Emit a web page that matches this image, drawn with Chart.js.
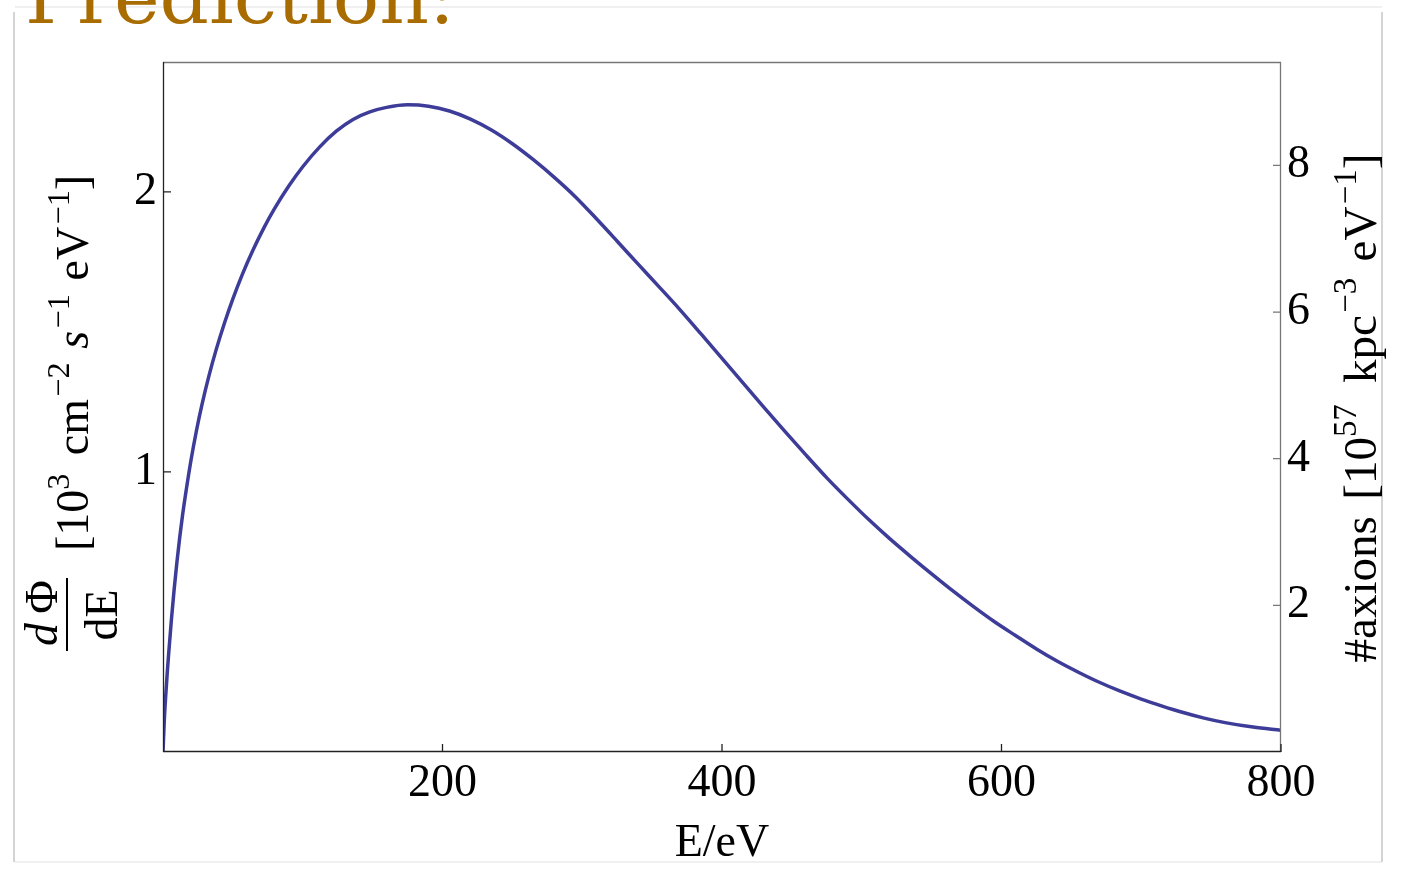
<!DOCTYPE html>
<html>
<head>
<meta charset="utf-8">
<script src="https://cdn.jsdelivr.net/npm/chart.js@4.4.1/dist/chart.umd.min.js"></script>
<style>
  body { margin: 0; background: #fff; }
  canvas { display: block; }
</style>
</head>
<body>
<canvas id="chart" width="1401" height="893"></canvas>
<script>
// E in eV, dPhi/dE in 10^3 cm^-2 s^-1 eV^-1
const energy = [0, 1, 2, 3, 4, 6, 8, 10, 12, 14, 17, 20, 24, 28, 33, 38, 44, 50, 57, 64, 72, 80, 90, 100, 112, 124,
    136, 148, 160, 175, 190, 205, 220, 235, 250, 265, 280, 295, 310, 325, 340, 355, 370, 385, 400, 415, 430, 445,
    460, 475, 490, 505, 520, 535, 550, 565, 580, 595, 610, 625, 640, 655, 670, 685, 700, 715, 730, 745, 760, 780, 800];
const flux = [0, 0.12, 0.205, 0.28, 0.348, 0.472, 0.582, 0.68, 0.768, 0.846, 0.948, 1.041, 1.149, 1.243, 1.346, 1.436, 1.532, 1.618, 1.708, 1.788, 1.870, 1.942, 2.021, 2.090, 2.160, 2.217,
    2.259, 2.286, 2.302, 2.311, 2.306, 2.289, 2.260, 2.221, 2.172, 2.115, 2.052, 1.983, 1.905, 1.824, 1.742, 1.661, 1.579, 1.493, 1.406, 1.318, 1.231, 1.145,
    1.061, 0.979, 0.903, 0.830, 0.762, 0.698, 0.636, 0.576, 0.519, 0.465, 0.416, 0.368, 0.324, 0.285, 0.249, 0.217, 0.189, 0.164, 0.141, 0.121, 0.105, 0.089, 0.078];

const xTicks = [200, 400, 600, 800];
const leftTicks = [1, 2];
const rightTicks = [2, 4, 6, 8];

const serif = "'Liberation Serif', 'Times New Roman', serif";
const lineColor = '#3d3d99';

// draws a row of text pieces, p[1]: '' normal, 'i' italic, 's' superscript, 'g' gap (em)
function drawRich(ctx, parts, size) {
    const pieces = parts.map(p => {
        const st = p[1] || '';
        if (st === 'g') return { t: '', font: '', w: p[0] * size, up: 0 };
        const sz = st.includes('s') ? size * 0.7 : size;
        const font = (st.includes('i') ? 'italic ' : '') + sz + 'px ' + serif;
        ctx.font = font;
        return { t: p[0], font: font, w: ctx.measureText(p[0]).width, up: st.includes('s') ? size * 0.42 : 0 };
    });
    const total = pieces.reduce((a, p) => a + p.w, 0);
    let x = -total / 2;
    pieces.forEach(p => {
        if (p.t) {
            ctx.font = p.font;
            ctx.fillText(p.t, x, -p.up);
        }
        x += p.w;
    });
    return total;
}

const decor = {
    id: 'decor',
    beforeDraw(chart) {
        const ctx = chart.ctx;
        ctx.save();
        ctx.fillStyle = '#fff';
        ctx.fillRect(0, 0, chart.width, chart.height);
        // slide frame
        ctx.lineWidth = 2;
        ctx.strokeStyle = '#f0f0f0';
        ctx.beginPath();
        ctx.moveTo(15, 7); ctx.lineTo(1382, 7);
        ctx.moveTo(15, 862); ctx.lineTo(1382, 862);
        ctx.stroke();
        ctx.strokeStyle = '#d4d4d4';
        ctx.beginPath();
        ctx.moveTo(14, 12); ctx.lineTo(14, 862);
        ctx.moveTo(1382, 12); ctx.lineTo(1382, 862);
        ctx.stroke();
        ctx.restore();
    },
    afterDraw(chart) {
        const ctx = chart.ctx;
        const a = chart.chartArea;
        const sx = chart.scales.x, sy = chart.scales.y, sy2 = chart.scales.y2;
        ctx.save();
        ctx.lineWidth = 1.3;
        // frame
        ctx.strokeStyle = '#777';
        ctx.beginPath();
        ctx.moveTo(a.left, a.top + 0.5); ctx.lineTo(a.right, a.top + 0.5);
        ctx.moveTo(a.right - 0.5, a.top); ctx.lineTo(a.right - 0.5, a.bottom);
        rightTicks.forEach(v => {
            const y = sy2.getPixelForValue(v);
            ctx.moveTo(a.right, y); ctx.lineTo(a.right - 8, y);
        });
        ctx.stroke();
        ctx.strokeStyle = '#222';
        ctx.beginPath();
        ctx.moveTo(a.left + 0.5, a.top); ctx.lineTo(a.left + 0.5, a.bottom);
        ctx.moveTo(a.left, a.bottom - 0.5); ctx.lineTo(a.right, a.bottom - 0.5);
        leftTicks.forEach(v => {
            const y = sy.getPixelForValue(v);
            ctx.moveTo(a.left, y); ctx.lineTo(a.left + 8, y);
        });
        xTicks.forEach(v => {
            const x = sx.getPixelForValue(v);
            ctx.moveTo(x, a.bottom); ctx.lineTo(x, a.bottom - 8);
        });
        ctx.stroke();

        // slide heading, cut off by the top of the page
        ctx.fillStyle = '#a96c00';
        ctx.textBaseline = 'alphabetic';
        ctx.textAlign = 'left';
        ctx.font = "72px 'DejaVu Serif', serif";
        const hw = ctx.measureText('Prediction:').width;
        ctx.save();
        ctx.translate(25, 23);
        ctx.scale(430 / hw, 1);
        ctx.fillText('Prediction:', 0, 0);
        ctx.restore();

        ctx.fillStyle = '#000';
        // x title
        ctx.save();
        ctx.translate(722, 856);
        drawRich(ctx, [['E/eV']], 46);
        ctx.restore();

        // left title
        ctx.save();
        ctx.translate(88, 363);
        ctx.rotate(-Math.PI / 2);
        drawRich(ctx, [['[10'], ['3', 's'], [0.4, 'g'], ['cm'], [0.05, 'g'], ['\u22122', 's'], [0.3, 'g'], ['s', 'i'], [0.05, 'g'], ['\u22121', 's'],
            [0.3, 'g'], ['eV'], [0.05, 'g'], ['\u22121', 's'], [']']], 46);
        ctx.restore();
        ctx.save();
        ctx.translate(57, 613);
        ctx.rotate(-Math.PI / 2);
        drawRich(ctx, [['d', 'i'], ['\u2009\u03A6']], 46);
        ctx.restore();
        ctx.save();
        ctx.translate(117, 615);
        ctx.rotate(-Math.PI / 2);
        drawRich(ctx, [['dE']], 46);
        ctx.restore();
        ctx.strokeStyle = '#000';
        ctx.lineWidth = 2;
        ctx.beginPath();
        ctx.moveTo(67, 578); ctx.lineTo(67, 651);
        ctx.stroke();

        // right title
        ctx.save();
        ctx.translate(1376, 408);
        ctx.rotate(-Math.PI / 2);
        drawRich(ctx, [['#axions'], [0.35, 'g'], ['[10'], ['57', 's'], [0.45, 'g'], ['kpc'], [0.05, 'g'], ['\u22123', 's'], [0.35, 'g'],
            ['eV'], [0.05, 'g'], ['\u22121', 's'], [']']], 47);
        ctx.restore();
        ctx.restore();
    }
};

const ctx = document.getElementById('chart').getContext('2d');
const points = energy.map((e, i) => ({ x: e, y: flux[i] }));

new Chart(ctx, {
    type: 'line',
    data: {
        datasets: [{
            data: points,
            borderColor: lineColor,
            borderWidth: 3.5,
            pointRadius: 0,
            fill: false,
            cubicInterpolationMode: 'monotone',
            yAxisID: 'y'
        }]
    },
    options: {
        responsive: false,
        animation: false,
        events: [],
        layout: { padding: { top: 62, left: 0, right: 0, bottom: 0 } },
        plugins: {
            legend: { display: false },
            tooltip: { enabled: false }
        },
        scales: {
            x: {
                type: 'linear',
                min: 0,
                max: 800,
                afterBuildTicks: s => { s.ticks = xTicks.map(v => ({ value: v })); },
                afterFit: s => { s.height = 141; },
                grid: { display: false, drawTicks: false },
                border: { display: false },
                ticks: { color: '#000', font: { family: serif, size: 46 }, padding: 4, maxRotation: 0, autoSkip: false }
            },
            y: {
                position: 'left',
                min: 0,
                max: 2.464,
                afterBuildTicks: s => { s.ticks = leftTicks.map(v => ({ value: v })); },
                afterFit: s => { s.width = 163; },
                grid: { display: false, drawTicks: false },
                border: { display: false },
                ticks: { color: '#000', font: { family: serif, size: 46 }, padding: 6 }
            },
            y2: {
                position: 'right',
                min: 0,
                max: 9.41,
                afterBuildTicks: s => { s.ticks = rightTicks.map(v => ({ value: v })); },
                afterFit: s => { s.width = 120; },
                grid: { display: false, drawTicks: false },
                border: { display: false },
                ticks: { color: '#000', font: { family: serif, size: 46 }, padding: 6 }
            }
        }
    },
    plugins: [decor]
});
</script>
</body>
</html>
